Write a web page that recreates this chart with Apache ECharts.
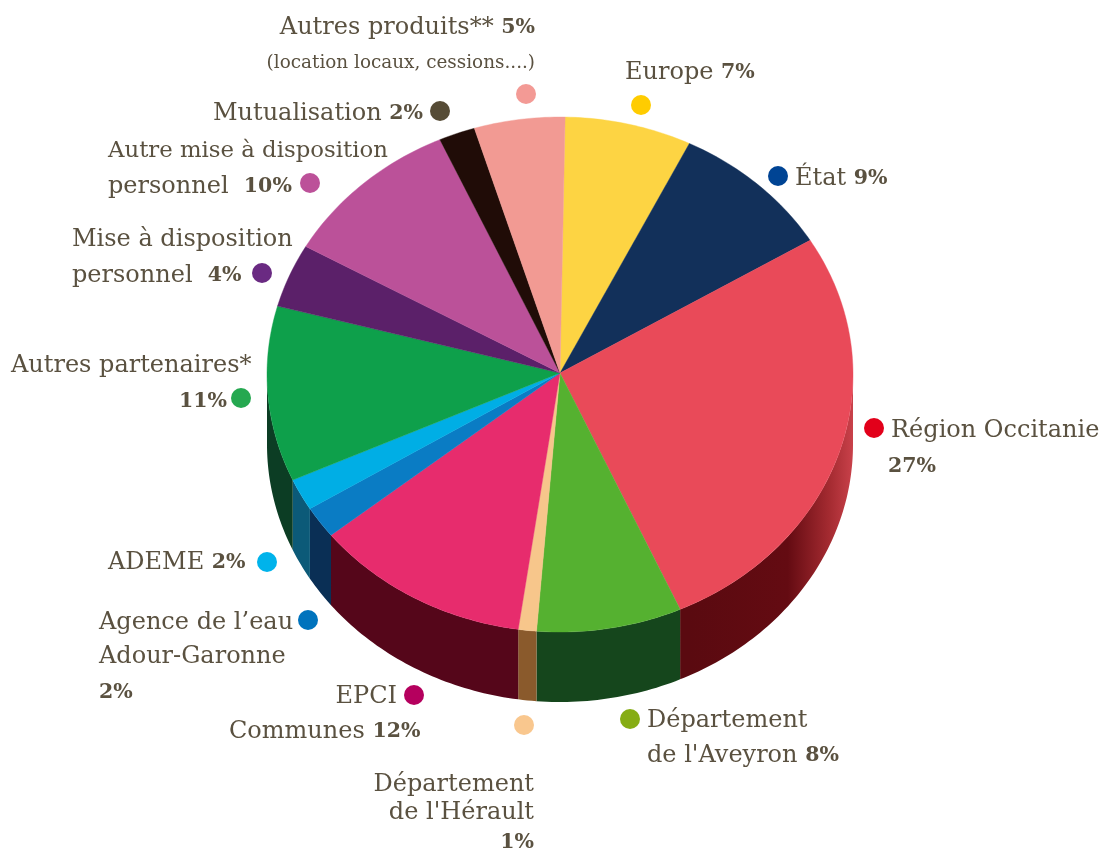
<!DOCTYPE html>
<html><head><meta charset="utf-8">
<style>html,body{margin:0;padding:0;background:#fff}#c{width:1107px;height:850px}</style>
<script src="https://cdn.jsdelivr.net/npm/echarts@6/dist/echarts.min.js"></script>
</head><body><div id="c"></div>
<script>
const categories = ['Europe','État','Région Occitanie',"Département de l'Aveyron","Département de l'Hérault",'EPCI Communes',"Agence de l'eau Adour-Garonne",'ADEME','Autres partenaires','Mise à disposition personnel','Autre mise à disposition personnel','Mutualisation','Autres produits'];
const values = [7,9,27,8,1,12,2,2,11,4,10,2,5];
const topColors = ['#fdd443','#12305a','#e94a59','#55b130','#f7c68b','#e72c6d','#0a7cc4','#00aee5','#0ea04b','#5b2069','#bb5199','#200c07','#f29a93'];
const wallColors = ['#000','#000','#5e0a12','#15461c','#8a5a2c','#55061a','#0a2f55','#0c5a78','#0c3d24','#000','#000','#000','#000'];
const dotColors = ['#ffcc00','#004494','#e2001a','#86ad14','#f9c78e','#b5005e','#0073bd','#00b3eb','#25a850','#6a2a82','#bc5199','#564c36','#f39a95'];

// layout (not data)
const apexX=560, apexY=373, cx=560, cy=374.5, rx=293, ry=257.5, depth=70, startDeg=1.0;
const dotPos=[[641,105],[778,176],[874,428],[630,719],[524,725],[414,695],[308,620],[267,562],[241,398],[262,273],[310,183],[440,111],[526,94]];
// [text, x, centre y, align]; {n|} = regular, {b|} = bold percentage, {s|} = small, {t|} = tighter regular
const labelLines=[
 ['{n|Autres produits** }{b|5%}',535,28,'right'],
 ['{s|(location locaux, cessions....)}',535,63,'right'],
 ['{n|Mutualisation }{b|2%}',423,114,'right'],
 ['{t|Autre mise à disposition}',108,151,'left'],
 ['{n|personnel  }{b|10%}',108,187,'left'],
 ['{n|Mise à disposition}',72,240,'left'],
 ['{n|personnel  }{b|4%}',72,276,'left'],
 ['{n|Autres partenaires*}',11,366,'left'],
 ['{b|11%}',179,402,'left'],
 ['{n|ADEME }{b|2%}',108,563,'left'],
 ['{n|Agence de l’eau}',99,623,'left'],
 ['{n|Adour-Garonne}',99,657,'left'],
 ['{b|2%}',99,693,'left'],
 ['{n|EPCI}',397,697,'right'],
 ['{n|Communes }{b|12%}',229,732,'left'],
 ['{n|Département}',534,785,'right'],
 ["{n|de l'Hérault}",534,813,'right'],
 ['{b|1%}',534,843,'right'],
 ['{n|Département}',647,721,'left'],
 ["{n|de l'Aveyron }{b|8%}",647,756,'left'],
 ['{n|Région Occitanie}',891,431,'left'],
 ['{b|27%}',888,467,'left'],
 ['{n|État }{b|9%}',795,179,'left'],
 ['{n|Europe }{b|7%}',625,73,'left']
];
const textColor='#5a5140';
const rich={
 n:{fontFamily:'DejaVu Serif',fontSize:24,fill:textColor},
 t:{fontFamily:'DejaVu Serif',fontSize:22.8,fill:textColor},
 s:{fontFamily:'DejaVu Serif',fontSize:18.4,fill:textColor},
 b:{fontFamily:'DejaVu Serif',fontWeight:'bold',fontSize:20.5,fill:textColor}
};
const total=values.reduce((a,b)=>a+b,0);
function rim(deg,off){const t=deg*Math.PI/180;return [cx+rx*Math.sin(t),cy-ry*Math.cos(t)+(off||0)];}
function arc(a,b,off){const out=[];const n=Math.max(2,Math.ceil(Math.abs(b-a)));for(let i=0;i<=n;i++)out.push(rim(a+(b-a)*i/n,off));return out;}

function renderItem(params,api){
 const i=params.dataIndex;
 let acc=0;for(let k=0;k<i;k++)acc+=values[k];
 const a=startDeg+acc/total*360, b=a+api.value(0)/total*360;
 const children=[];
 const wa=Math.max(a,90), wb=Math.min(b,270);
 if(wb>wa){
  const top=arc(wa,wb,0), bot=arc(wb,wa,depth);
  let fill=wallColors[i];
  if(i===2){fill=new echarts.graphic.LinearGradient(690,0,853,0,[
    {offset:0,color:'#5a0a10'},{offset:0.6,color:'#640b12'},{offset:0.85,color:'#a32a30'},{offset:1,color:'#c9414a'}],true);}
  children.push({type:'polygon',shape:{points:top.concat(bot)},style:{fill:fill,stroke:null}});
 }
 const pts=[[apexX,apexY]].concat(arc(a,b,0));
 children.push({type:'polygon',z2:5,shape:{points:pts},style:{fill:topColors[i],stroke:topColors[i],lineWidth:0.4}});
 return {type:'group',children:children};
}
const graphics=[];
dotPos.forEach((p,i)=>graphics.push({type:'circle',silent:true,shape:{cx:p[0],cy:p[1],r:10},style:{fill:dotColors[i]}}));
labelLines.forEach(l=>graphics.push({type:'text',silent:true,x:l[1],y:l[2],style:{text:l[0],rich:rich,align:l[3],verticalAlign:'middle'}}));

const chart=echarts.init(document.getElementById('c'),null,{renderer:'canvas'});
chart.setOption({
 animation:false,backgroundColor:'#fff',
 graphic:graphics,
 series:[{type:'custom',coordinateSystem:'none',renderItem:renderItem,
  data:values.map((v,i)=>({name:categories[i],value:[v]})),clip:false,silent:true}]
});
</script></body></html>
